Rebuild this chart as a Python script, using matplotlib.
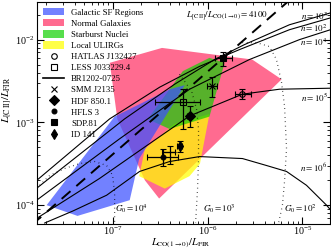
import numpy as np
import matplotlib
matplotlib.use("Agg")
import matplotlib.pyplot as plt
from matplotlib.patches import Patch
from matplotlib.lines import Line2D

plt.rcParams['font.family'] = ['Liberation Serif', 'DejaVu Serif']
plt.rcParams['mathtext.fontset'] = 'stix'

# Regionen (log10 x, log10 y)
galactic_lx = [-7.695, -7.37, -6.82, -6.72, -6.24, -6.40, -6.98]
galactic_ly = [-4.00, -4.13, -3.94, -3.44, -2.55, -2.60, -2.93]
normal_lx = [-7.03, -6.48, -5.53, -5.22, -6.51, -6.66, -6.95]
normal_ly = [-2.28, -2.10, -2.24, -2.48, -3.92, -3.70, -2.96]
starburst_lx = [-6.26, -5.98, -5.82, -5.98, -6.40, -6.63]
starburst_ly = [-2.38, -2.22, -2.28, -2.93, -3.08, -2.96]
ulirg_lx = [-6.66, -6.35, -5.98, -6.08, -6.19, -6.45, -6.72]
ulirg_ly = [-3.32, -3.02, -2.90, -3.50, -3.65, -3.80, -3.65]

# PDR-Modelle, Dichte n
n_tracks = {
    '2': ([-7.800, -7.032, -6.505, -6.084, -5.663, -5.137, -4.705],
          [-3.701, -2.958, -2.575, -2.323, -2.120, -1.880, -1.737]),
    '3': ([-7.800, -6.874, -6.347, -5.926, -5.611, -5.137, -4.705],
          [-3.796, -2.958, -2.539, -2.240, -2.060, -1.820, -1.677]),
    '4': ([-7.800, -6.926, -6.189, -5.558, -5.032, -4.705],
          [-3.940, -3.198, -2.599, -2.240, -2.000, -1.880]),
    '5': ([-7.800, -7.137, -6.611, -6.189, -5.632, -5.242, -4.705],
          [-4.160, -3.677, -3.257, -2.922, -2.659, -2.599, -2.587]),
    '6': ([-7.716, -7.421, -7.063, -6.716, -6.400, -6.084, -5.632, -5.379, -5.168, -4.958, -4.747, -4.68],
          [-4.216, -4.072, -3.880, -3.593, -3.473, -3.413, -3.437, -3.521, -3.593, -3.760, -4.000, -4.09]),
}
# G0-Konturen
g0_tracks = {
    '4': ([-7.768, -7.663, -7.505, -7.347, -7.189, -7.063, -7.000, -6.979, -6.979],
          [-3.760, -3.641, -3.557, -3.497, -3.473, -3.521, -3.641, -3.856, -4.216]),
    '3': ([-6.295, -6.168, -6.116, -6.095, -6.095, -6.105, -6.126],
          [-2.419, -2.623, -2.838, -3.078, -3.437, -3.796, -4.216]),
    '2': ([-5.632, -5.484, -5.347, -5.274, -5.221, -5.189, -5.168, -5.189, -5.211, -5.263],
          [-2.036, -2.036, -2.084, -2.240, -2.515, -2.802, -3.317, -3.713, -4.000, -4.275]),
}
ratio_co = 4100

# Quellen: name, marker, size, fill, log x, log y, x-range, y-range
sources = [
    ('HATLAS J132427', 'o', 4, 'none', -5.632, -2.659, (-5.716, -5.537), (-2.719, -2.599)),
    ('LESS J033229.4', 's', 4, 'none', -6.263, -2.754, (-6.558, -6.084), (-3.078, -2.599)),
    ('BR1202-0725', '_', 9, 'k', -6.400, -3.353, (-6.484, -6.347), (-3.497, -3.281)),
    ('SMM J2135', 'x', 4, 'k', -5.958, -2.563, (-6.011, -5.905), (-2.695, -2.455)),
    ('HDF 850.1', 'D', 5, 'k', -6.189, -2.922, (-6.22, -6.16), (-3.054, -2.802)),
    ('HFLS 3', 'o', 3.5, 'k', -6.474, -3.413, (-6.642, -6.316), (-3.533, -3.317)),
    ('SDP.81', 's', 5, 'k', -5.832, -2.216, (-5.926, -5.747), (-2.323, -2.144)),
    ('ID 141', 'd', 5, 'k', -6.295, -3.281, (-6.32, -6.27), (-3.353, -3.222)),
]

fig = plt.figure(figsize=(3.31, 2.5), dpi=100)
ax = fig.add_axes([0.112, 0.106, 0.885, 0.886])

# Farbe, alpha
regions = [
    (normal_lx, normal_ly, '#ff6b90', 1.0, 'Normal Galaxies'),
    (ulirg_lx, ulirg_ly, '#ffff00', 0.72, 'Local ULIRGs'),
    (starburst_lx, starburst_ly, '#10d000', 0.7, 'Starburst Nuclei'),
    (galactic_lx, galactic_ly, '#3c50ff', 0.72, 'Galactic SF Regions'),
]
for lx, ly, c, a, lab in regions:
    ax.fill(10 ** np.array(lx), 10 ** np.array(ly), color=c, alpha=a, lw=0, zorder=1)

for key, (lx, ly) in n_tracks.items():
    ax.plot(10 ** np.array(lx), 10 ** np.array(ly), color='k', lw=0.8, zorder=3)
for key, (lx, ly) in g0_tracks.items():
    ax.plot(10 ** np.array(lx), 10 ** np.array(ly), color='k', lw=0.9, ls=(0, (0.5, 3)), zorder=3)

xx = np.array([1e-8, 1e-4])
ax.plot(xx, ratio_co * xx, color='k', lw=1.4, ls=(0, (6, 4)), zorder=3)

for name, m, ms, fc, lx, ly, xr, yr in sources:
    x, y = 10 ** lx, 10 ** ly
    xerr = [[x - 10 ** xr[0]], [10 ** xr[1] - x]]
    yerr = [[y - 10 ** yr[0]], [10 ** yr[1] - y]]
    ax.errorbar(x, y, xerr=xerr, yerr=yerr, fmt=m, ms=ms, mfc=fc, mec='k', mew=0.8,
                color='k', ecolor='k', elinewidth=0.9, capsize=2.5, capthick=0.9, zorder=5)

ax.set_xscale('log')
ax.set_yscale('log')
ax.set_xlim(1.6e-8, 1.95e-5)
ax.set_ylim(6.0e-5, 2.85e-2)
ax.tick_params(which='both', direction='in', top=True, right=True, labelsize=7.2)
ax.tick_params(which='major', length=5, width=0.8)
ax.tick_params(which='minor', length=2.5, width=0.6)
ax.tick_params(axis='x', pad=0.5)
ax.tick_params(axis='y', pad=2)

ax.set_xlabel(r'$L_{\rm CO(1\rightarrow 0)}/L_{\rm FIR}$', fontsize=7.5, va='bottom')
ax.set_ylabel(r'$L_{\rm [C\,II]}/L_{\rm FIR}$', fontsize=8)
ax.xaxis.set_label_coords(0.49, -0.12)
ax.yaxis.set_label_coords(-0.082, 0.56)

fs = 6.5
ax.text(1.6e-6, 1.95e-2, r'$L_{\rm [C\,II]}/L_{\rm CO(1\rightarrow 0)}=4100$', fontsize=fs,
        ha='center', va='center')
for lab, yv in [('3', 1.9e-2), ('2', 1.38e-2), ('4', 9.2e-3), ('5', 2.0e-3), ('6', 2.8e-4)]:
    ax.text(1.85e-5, yv, r'$n=10^{%s}$' % lab, fontsize=fs, ha='right', va='center')
for lab, xv in [('4', 1.07e-7), ('3', 9.0e-7), ('2', 6.4e-6)]:
    ax.text(xv, 9.0e-5, r'$G_0=10^{%s}$' % lab, fontsize=fs, ha='left', va='center')

legend_order = [3, 0, 2, 1]
handles = [Patch(color=regions[i][2], alpha=regions[i][3], lw=0) for i in legend_order]
labels = [regions[i][4] for i in legend_order]
for name, m, ms, fc, *_ in sources:
    if m == '_':
        handles.append(Line2D([], [], color='k', lw=1.2))
    else:
        handles.append(Line2D([], [], ls='none', marker=m, ms=ms, mfc=fc, mec='k', mew=0.8))
    labels.append(name)
ax.legend(handles, labels, loc='upper left', frameon=False, fontsize=6.3,
          handlelength=2.4, handleheight=0.9, labelspacing=0.28, borderaxespad=0.3,
          handletextpad=0.8)

fig.savefig('out.png', dpi=100)
